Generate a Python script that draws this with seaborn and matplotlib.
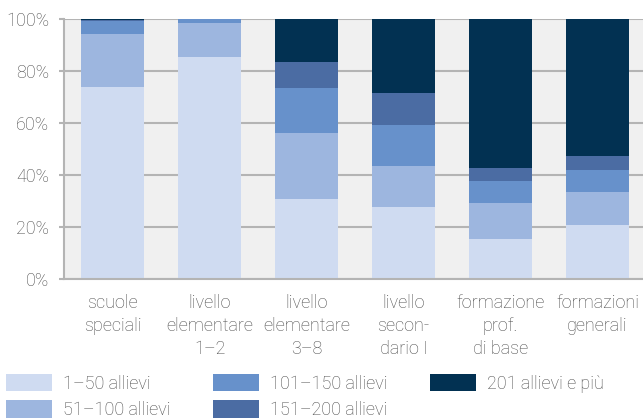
import matplotlib
matplotlib.use("Agg")
import matplotlib.pyplot as plt
import numpy as np
import pandas as pd
import seaborn as sns
from matplotlib.patches import Patch
from matplotlib.ticker import FuncFormatter

# Categories and series (share of schools, %)
categories = [
    "scuole\nspeciali",
    "livello\nelementare\n1–2",
    "livello\nelementare\n3–8",
    "livello\nsecon-\ndario I",
    "formazione\nprof.\ndi base",
    "formazioni\ngenerali",
]
series = ["1–50 allievi", "51–100 allievi", "101–150 allievi", "151–200 allievi", "201 allievi e più"]
s_1_50 = [73.8, 85.4, 30.8, 27.7, 15.4, 20.8]
s_51_100 = [20.4, 13.1, 25.4, 15.8, 13.8, 12.7]
s_101_150 = [5.2, 1.4, 17.3, 15.7, 8.5, 8.4]
s_151_200 = [0.2, 0.1, 10.0, 12.3, 5.0, 5.4]
s_201 = [0.4, 0.0, 16.5, 28.5, 57.3, 52.7]

colors = ["#cfdbf1", "#9db6df", "#6791cb", "#4b6ca3", "#023152"]
text_color = "#4a4a4a"
grid_color = "#b4b4b4"
fsize = 13

sns.set_theme(style="white")
plt.rcParams["font.family"] = ["Roboto", "DejaVu Sans"]
plt.rcParams["font.weight"] = "light"

df = pd.DataFrame(
    {"categoria": categories, series[0]: s_1_50, series[1]: s_51_100,
     series[2]: s_101_150, series[3]: s_151_200, series[4]: s_201}
)
cum = df[series].cumsum(axis=1)

fig = plt.figure(figsize=(6.43, 4.19), dpi=100)
ax = fig.add_axes([64 / 643, 1 - 279 / 419, 579 / 643, 260 / 419])
ax.set_facecolor("#f0f0f0")

# Draw cumulative totals from the top layer down so each segment shows
for i in reversed(range(len(series))):
    sns.barplot(x=df["categoria"], y=cum[series[i]], color=colors[i],
                width=0.65, linewidth=0, saturation=1, ax=ax, zorder=2)

ax.set_ylim(0, 100)
ax.set_xlim(-0.5, 5.469)
ax.set_yticks(np.arange(0, 101, 20))
ax.yaxis.set_major_formatter(FuncFormatter(lambda v, p: f"{v:.0f}%"))
ax.set_xlabel("")
ax.set_ylabel("")
ax.set_axisbelow(True)
ax.yaxis.grid(True, color=grid_color, linewidth=1.5, zorder=1)
ax.xaxis.grid(False)

for side in ["top", "right"]:
    ax.spines[side].set_visible(False)
for side in ["left", "bottom"]:
    ax.spines[side].set_color(grid_color)
    ax.spines[side].set_linewidth(1.5)
ax.spines["bottom"].set_zorder(3)

ax.tick_params(axis="y", which="both", length=3.5, width=1.5, color=grid_color,
               labelsize=fsize, labelcolor=text_color, pad=7, left=True)
ax.tick_params(axis="x", which="both", length=0, labelsize=fsize,
               labelcolor=text_color, pad=11)
for lab in ax.get_xticklabels():
    lab.set_linespacing(1.36)

handles = [Patch(facecolor=c, edgecolor="none") for c in colors]
leg = fig.legend(handles, series, loc="upper left", bbox_to_anchor=(-0.0155, 0.147),
                 ncol=3, frameon=False, fontsize=fsize, handlelength=2.55,
                 handleheight=1.12, handletextpad=0.6, columnspacing=2.35,
                 labelspacing=0.42)
for t in leg.get_texts():
    t.set_color(text_color)

fig.savefig("out.png", dpi=100)
